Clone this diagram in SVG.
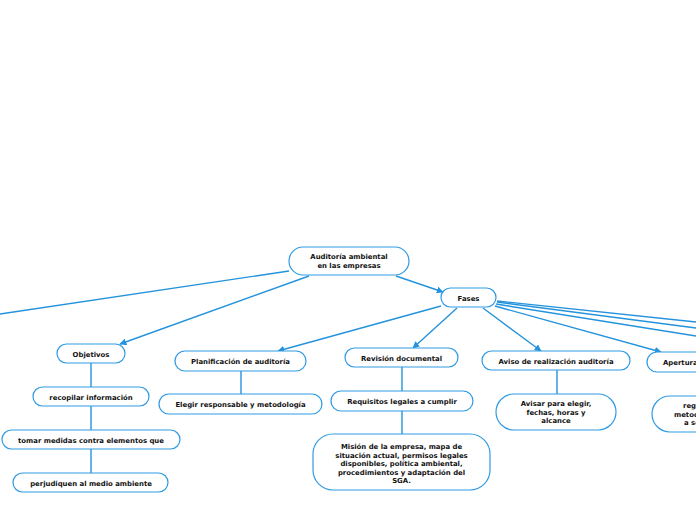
<svg xmlns="http://www.w3.org/2000/svg" width="696" height="520" viewBox="0 0 696 520">
<defs>
<marker id="ah" viewBox="0 0 10 10" refX="9" refY="5" markerWidth="7" markerHeight="7" markerUnits="userSpaceOnUse" orient="auto">
<path d="M0,0 L10,5 L0,10 z" fill="#2493dd"/>
</marker>
<style>
.n{fill:#fff;stroke:#2f9be3;stroke-width:1.2}
.t{font-family:"DejaVu Sans",Verdana,sans-serif;font-weight:bold;font-size:6.9px;fill:#111;text-anchor:middle}
.ts{font-family:"DejaVu Sans",Verdana,sans-serif;font-weight:bold;font-size:6.9px;fill:#111}
.c{fill:none;stroke:#2493dd;stroke-width:1.4}
.a{marker-end:url(#ah)}
</style>
</defs>
<rect width="696" height="520" fill="#fff"/>
<g id="connectors">
<path class="c" d="M289,271 L0,314"/>
<path class="c a" d="M309,276 L120,344"/>
<path class="c a" d="M396,276 L443,292"/>
<path class="c a" d="M441,306 L278,351"/>
<path class="c a" d="M457,308 L413,348"/>
<path class="c a" d="M483,308 L541,351"/>
<path class="c a" d="M495,306 L661,352"/>
<path class="c" d="M497,301 L696,322"/>
<path class="c" d="M497,302 L696,328"/>
<path class="c" d="M496,304 L696,336"/>
<path class="c" d="M91,363 L91,387"/>
<path class="c" d="M91,406 L91,430"/>
<path class="c" d="M91,449 L91,473"/>
<path class="c" d="M241,371 L241,394"/>
<path class="c" d="M402,367 L402,391"/>
<path class="c" d="M402,411 L402,434"/>
<path class="c" d="M557,370 L557,394"/>
</g>
<g id="root"><rect class="n" x="289" y="247" width="120" height="28" rx="14"/><text class="t" x="349" y="259">Auditoría ambiental</text><text class="t" x="349" y="268">en las empresas</text></g>
<g id="fases"><rect class="n" x="441" y="288" width="55" height="19" rx="9.5"/><text class="t" x="468.5" y="300.5">Fases</text></g>
<g id="objetivos"><rect class="n" x="57" y="344" width="68" height="19" rx="9.5"/><text class="t" x="91" y="356.5">Objetivos</text></g>
<g id="recopilar"><rect class="n" x="33" y="387" width="116" height="19" rx="9.5"/><text class="t" x="91" y="399.5">recopilar información</text></g>
<g id="tomar"><rect class="n" x="2" y="430" width="178" height="19" rx="9.5"/><text class="t" x="91" y="442.5">tomar medidas contra elementos que</text></g>
<g id="perjudiquen"><rect class="n" x="13" y="473" width="155" height="19" rx="9.5"/><text class="t" x="91" y="485.5">perjudiquen al medio ambiente</text></g>
<g id="planificacion"><rect class="n" x="175" y="351" width="131" height="20" rx="10"/><text class="t" x="240.5" y="363.5">Planificación de auditoría</text></g>
<g id="elegir"><rect class="n" x="159" y="394" width="163" height="20" rx="10"/><text class="t" x="240.5" y="406.5">Elegir responsable y metodología</text></g>
<g id="revision"><rect class="n" x="345" y="348" width="113" height="19" rx="9.5"/><text class="t" x="401.5" y="360.5">Revisión documental</text></g>
<g id="requisitos"><rect class="n" x="331" y="391" width="142" height="20" rx="10"/><text class="t" x="402" y="403.5">Requisitos legales a cumplir</text></g>
<g id="mision"><rect class="n" x="313" y="434" width="177" height="56" rx="20"/>
<text class="t" x="401.5" y="449">Misión de la empresa, mapa de</text>
<text class="t" x="401.5" y="457.5">situación actual, permisos legales</text>
<text class="t" x="401.5" y="466">disponibles, política ambiental,</text>
<text class="t" x="401.5" y="474.5">procedimientos y adaptación del</text>
<text class="t" x="401.5" y="483">SGA.</text></g>
<g id="aviso"><rect class="n" x="482" y="351" width="148" height="19" rx="9.5"/><text class="t" x="556" y="363.5">Aviso de realización auditoría</text></g>
<g id="avisar"><rect class="n" x="496" y="394" width="120" height="36" rx="18"/>
<text class="t" x="556" y="406">Avisar para elegir,</text>
<text class="t" x="556" y="414.5">fechas, horas y</text>
<text class="t" x="556" y="423">alcance</text></g>
<g id="apertura"><rect class="n" x="647" y="352" width="120" height="20" rx="10"/><text class="ts" x="663" y="364.5">Apertura de auditoría</text></g>
<g id="registro"><rect class="n" x="652" y="396" width="120" height="36" rx="18"/>
<text class="ts" x="683" y="408">registro de</text>
<text class="ts" x="674" y="416.5">metodología</text>
<text class="ts" x="684" y="425">a seguir</text></g>
</svg>
